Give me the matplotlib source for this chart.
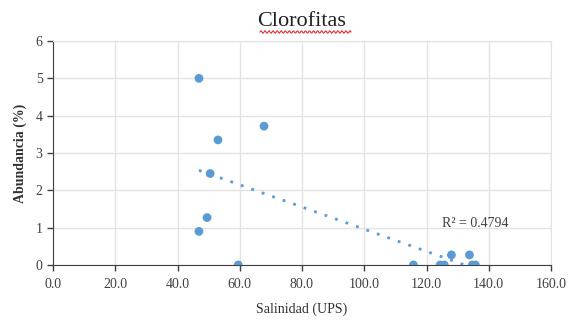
import numpy as np
import matplotlib.pyplot as plt

salinidad = [46.9, 53.0, 67.8, 50.5, 49.5, 46.9, 59.5, 115.8, 124.4, 125.7, 128.0, 133.8, 134.7, 135.7]
abundancia = [5.0, 3.35, 3.72, 2.45, 1.27, 0.9, 0.0, 0.0, 0.0, 0.0, 0.27, 0.27, 0.0, 0.0]
r2_text = "R² = 0.4794"

plt.rcParams["font.family"] = ["Liberation Serif", "DejaVu Serif"]
blue = "#5B9BD5"

fig = plt.figure(figsize=(5.71, 3.2), dpi=100)
ax = fig.add_axes([53 / 571, 1 - 265 / 320, 498 / 571, 224 / 320])

ax.scatter(salinidad, abundancia, s=40, color=blue, zorder=3, edgecolors="none")

# linear trendline
slope, icpt = np.polyfit(salinidad, abundancia, 1)
xs = np.array([min(salinidad), max(salinidad)])
ys = slope * xs + icpt
ax.plot(xs, ys, color=blue, linestyle=(0, (1, 3)), linewidth=2, zorder=2)
ax.text(125, 1.1, r2_text, fontsize=10, color="#404040", ha="left", va="center")

ax.set_xlim(0, 160)
ax.set_ylim(0, 6)
ax.set_xticks(np.arange(0, 161, 20))
ax.set_xticklabels([f"{v:.1f}" for v in np.arange(0, 161, 20)])
ax.set_yticks(range(0, 7))
ax.grid(True, color="#e3e3e3", linewidth=1)
ax.set_axisbelow(True)
for s in ["top", "right"]:
    ax.spines[s].set_color("#e3e3e3")
ax.spines["left"].set_color("#404040")
ax.spines["bottom"].set_color("#404040")
ax.tick_params(axis="both", labelsize=10, colors="#404040", length=4, width=1)
ax.tick_params(axis="x", pad=5)

ax.set_xlabel("Salinidad (UPS)", fontsize=10, color="#303030", labelpad=9)
ax.set_ylabel("Abundancia (%)", fontsize=10, color="#303030", fontweight="bold", labelpad=6)
ax.set_title("Clorofitas", fontsize=16, color="#202020", pad=11)

# red spell-check squiggle under the title
wx = np.linspace(260 / 571, 351 / 571, 90)
wy = 1 - 32 / 320 + 0.004 * np.sin(np.linspace(0, 45 * np.pi, 90))
fig.add_artist(plt.Line2D(wx, wy, color="#e03030", linewidth=0.8, transform=fig.transFigure))

fig.savefig("out.png", dpi=100)
